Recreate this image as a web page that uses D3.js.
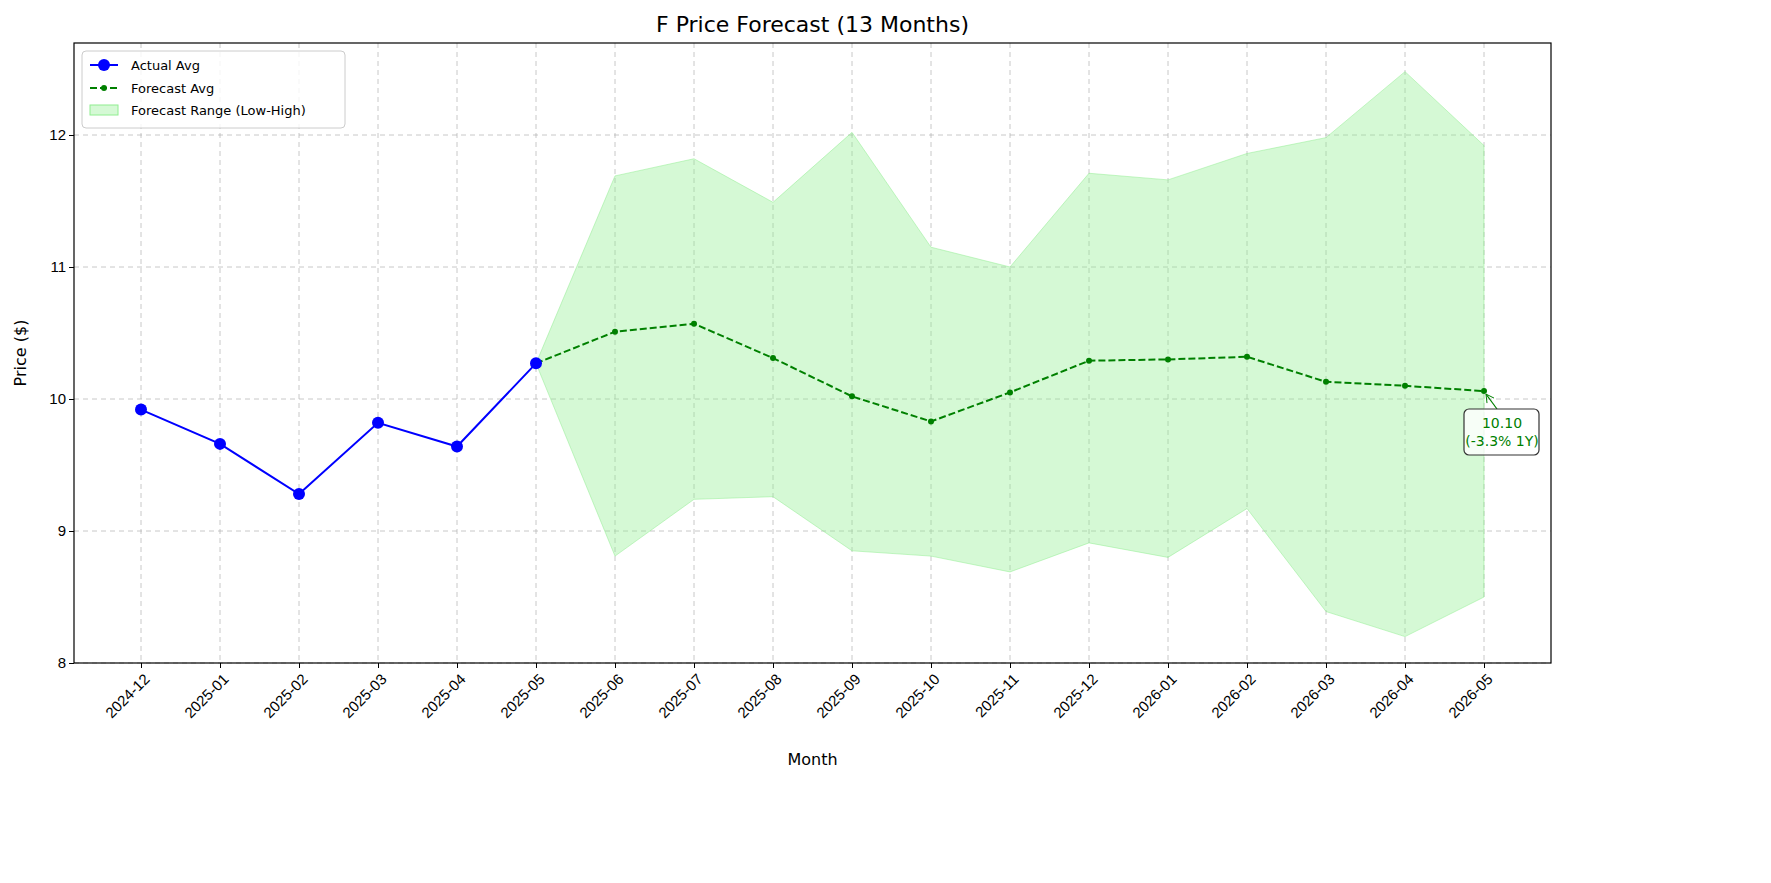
<!DOCTYPE html>
<html><head><meta charset="utf-8">
<script src="https://cdn.jsdelivr.net/npm/d3@7"></script>
<style>body{margin:0;background:#fff;font-family:"DejaVu Sans",sans-serif}</style>
</head><body><svg id="c" width="1771" height="883"></svg>
<script>
const months=["2024-12","2025-01","2025-02","2025-03","2025-04","2025-05","2025-06","2025-07","2025-08","2025-09","2025-10","2025-11","2025-12","2026-01","2026-02","2026-03","2026-04","2026-05"];
const actualMonths=months.slice(0,6);
const actualAvg=[9.92,9.66,9.28,9.82,9.64,10.27];
const fcMonths=months.slice(5);
const fcAvg=[10.27,10.51,10.57,10.31,10.02,9.83,10.05,10.29,10.30,10.32,10.13,10.10,10.06];
const fcHigh=[10.27,11.69,11.82,11.49,12.02,11.15,11.00,11.71,11.66,11.86,11.98,12.48,11.92];
const fcLow=[10.27,8.81,9.24,9.26,8.85,8.81,8.69,8.91,8.80,9.17,8.39,8.20,8.50];
const yTicks=[8,9,10,11,12];

const svg=d3.select("#c");
const L=74,R=1551,T=43,B=663;
const x=d3.scalePoint().domain(months).range([141,1484]);
const y=d3.scaleLinear().domain([8,12]).range([B,135]);
const yTop=y.invert(T);
y.domain([8,yTop]).range([B,T]);

const g=svg.append("g");
g.selectAll(".gx").data(months).join("line").attr("x1",d=>x(d)).attr("x2",d=>x(d)).attr("y1",T).attr("y2",B)
 .attr("stroke","#b0b0b0").attr("stroke-opacity",0.7).attr("stroke-dasharray","5,4");
g.selectAll(".gy").data(yTicks).join("line").attr("x1",L).attr("x2",R).attr("y1",d=>y(d)).attr("y2",d=>y(d))
 .attr("stroke","#b0b0b0").attr("stroke-opacity",0.7).attr("stroke-dasharray","5,4");
const fc=fcMonths.map((m,i)=>({m,a:fcAvg[i],h:fcHigh[i],l:fcLow[i]}));
g.append("path").datum(fc).attr("d",d3.area().x(d=>x(d.m)).y0(d=>y(d.l)).y1(d=>y(d.h)))
 .attr("fill","#90ee90").attr("fill-opacity",0.38).attr("stroke","#90ee90").attr("stroke-opacity",0.5);
g.append("path").datum(fc).attr("d",d3.line().x(d=>x(d.m)).y(d=>y(d.a)))
 .attr("fill","none").attr("stroke","green").attr("stroke-width",2).attr("stroke-dasharray","7,3");
g.selectAll(".fp").data(fc).join("circle").attr("cx",d=>x(d.m)).attr("cy",d=>y(d.a)).attr("r",3).attr("fill","green");
const act=actualMonths.map((m,i)=>({m,v:actualAvg[i]}));
g.append("path").datum(act).attr("d",d3.line().x(d=>x(d.m)).y(d=>y(d.v)))
 .attr("fill","none").attr("stroke","blue").attr("stroke-width",2);
g.selectAll(".ap").data(act).join("circle").attr("cx",d=>x(d.m)).attr("cy",d=>y(d.v)).attr("r",6).attr("fill","blue");
const xa=svg.append("g").attr("transform",`translate(0,${B})`).call(d3.axisBottom(x).tickSize(5).tickSizeOuter(0));
xa.select(".domain").remove();
xa.selectAll("text").attr("font-size",15).attr("fill","#000").attr("text-anchor","end")
 .attr("transform","translate(-4,4) rotate(-45)").attr("dy","0.7em").attr("dx","0");
const ya=svg.append("g").attr("transform",`translate(${L},0)`).call(d3.axisLeft(y).tickValues(yTicks).tickFormat(d3.format("d")).tickSize(5).tickSizeOuter(0));
ya.select(".domain").remove();
ya.selectAll("text").attr("font-size",15).attr("fill","#000");
svg.append("rect").attr("x",L).attr("y",T).attr("width",R-L).attr("height",B-T).attr("fill","none").attr("stroke","#000").attr("stroke-width",1.2);
svg.append("text").attr("x",(L+R)/2).attr("y",32).attr("text-anchor","middle").attr("font-size",22).text("F Price Forecast (13 Months)");
svg.append("text").attr("x",(L+R)/2).attr("y",765).attr("text-anchor","middle").attr("font-size",16).text("Month");
svg.append("text").attr("transform",`translate(26,${(T+B)/2}) rotate(-90)`).attr("text-anchor","middle").attr("font-size",16).text("Price ($)");
const lx=x(months[17]),ly=y(fcAvg[12]);
svg.append("line").attr("x1",1497).attr("y1",409).attr("x2",lx+2).attr("y2",ly+3).attr("stroke","green").attr("stroke-width",1.2);
svg.append("path").attr("d",`M${lx+2},${ly+3} l1,9 M${lx+2},${ly+3} l8,4`).attr("stroke","green").attr("fill","none");
svg.append("rect").attr("x",1464).attr("y",409).attr("width",75).attr("height",46).attr("rx",5)
 .attr("fill","#fff").attr("fill-opacity",0.8).attr("stroke","#333").attr("stroke-width",1.2);
svg.append("text").attr("x",1502).attr("y",428).attr("text-anchor","middle").attr("font-size",14).attr("fill","green").text("10.10");
svg.append("text").attr("x",1502).attr("y",446).attr("text-anchor","middle").attr("font-size",14).attr("fill","green").text("(-3.3% 1Y)");
const lg=svg.append("g");
lg.append("rect").attr("x",82).attr("y",51).attr("width",263).attr("height",77).attr("rx",4).attr("fill","#fff").attr("fill-opacity",0.8).attr("stroke","#ccc");
lg.append("line").attr("x1",90).attr("x2",118).attr("y1",65).attr("y2",65).attr("stroke","blue").attr("stroke-width",2);
lg.append("circle").attr("cx",104).attr("cy",65).attr("r",6).attr("fill","blue");
lg.append("line").attr("x1",90).attr("x2",118).attr("y1",88).attr("y2",88).attr("stroke","green").attr("stroke-width",2).attr("stroke-dasharray","7,3");
lg.append("circle").attr("cx",104).attr("cy",88).attr("r",3).attr("fill","green");
lg.append("rect").attr("x",90).attr("y",105).attr("width",28).attr("height",10).attr("fill","#90ee90").attr("fill-opacity",0.38).attr("stroke","#90ee90");
[["Actual Avg",65],["Forecast Avg",88],["Forecast Range (Low-High)",110]].forEach(([t,yy])=>
 lg.append("text").attr("x",131).attr("y",yy+5).attr("font-size",13).text(t));
</script></body></html>
